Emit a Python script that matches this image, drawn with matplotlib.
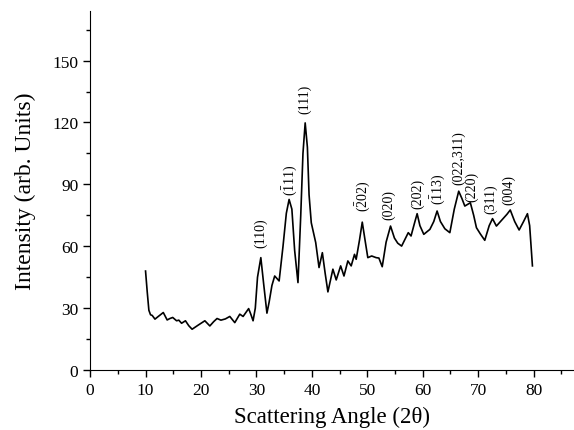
import matplotlib
matplotlib.use("Agg")
import matplotlib.pyplot as plt
from matplotlib.ticker import MultipleLocator

plt.rcParams['font.family'] = ['Liberation Serif', 'DejaVu Serif']
plt.rcParams['mathtext.fontset'] = 'custom'
plt.rcParams['mathtext.rm'] = 'Liberation Serif'
plt.rcParams['mathtext.it'] = 'Liberation Serif'

angle = [10.0, 10.3, 10.6, 10.9, 11.2, 11.7, 12.3, 13.2, 13.9, 14.4, 14.9, 15.6, 16.0, 16.5,
         17.2, 17.8, 18.4, 19.5, 20.7, 21.6, 22.3, 22.9, 23.6, 24.4, 25.2, 26.1, 27.0, 27.6,
         28.6, 29.0, 29.4, 29.8, 30.2, 30.8, 31.3, 31.9, 32.3, 32.8, 33.3, 34.1, 34.8, 35.4,
         35.9, 36.4, 36.9, 37.5, 38.0, 38.4, 38.8, 39.2, 39.5, 39.9, 40.7, 41.3, 41.9, 42.4,
         42.9, 43.8, 44.4, 45.2, 45.8, 46.5, 47.1, 47.7, 48.0, 48.6, 49.1, 49.6, 50.1, 50.8,
         51.6, 52.1, 52.7, 53.4, 54.2, 54.9, 55.5, 56.2, 57.4, 57.9, 58.5, 59.0, 59.5, 60.2,
         61.3, 62.0, 62.6, 63.2, 64.0, 64.9, 65.7, 66.5, 67.1, 67.6, 68.6, 69.2, 69.7, 70.4,
         71.2, 72.0, 72.6, 73.3, 74.5, 75.2, 75.8, 76.6, 77.4, 78.2, 78.9, 79.3, 79.8]
intensity = [48.0, 38.0, 29.0, 26.8, 26.5, 24.7, 26.0, 27.9, 24.3, 25.0, 25.5, 23.9, 24.2, 22.7,
             23.9, 21.5, 19.8, 21.8, 23.9, 21.4, 23.5, 25.0, 24.2, 24.8, 26.0, 23.0, 27.1, 26.0,
             29.8, 27.0, 23.9, 30.0, 45.0, 54.5, 42.0, 27.6, 33.0, 41.0, 45.6, 43.2, 60.0, 76.0,
             82.7, 78.0, 58.0, 42.4, 75.0, 105.0, 119.8, 108.0, 85.0, 71.4, 61.8, 49.7, 56.9, 47.0,
             37.9, 48.9, 43.7, 50.5, 45.6, 52.9, 50.5, 56.1, 53.7, 63.0, 71.7, 63.0, 54.5, 55.3,
             54.5, 54.3, 50.1, 62.0, 69.8, 64.0, 61.5, 60.1, 66.6, 65.0, 71.0, 75.8, 70.0, 65.8,
             68.2, 72.0, 77.1, 72.0, 68.5, 66.6, 78.0, 86.7, 83.0, 79.5, 81.1, 75.0, 69.0, 66.0,
             62.9, 70.0, 73.4, 69.8, 73.4, 75.5, 77.6, 72.0, 67.9, 72.0, 75.8, 70.0, 50.5]

peak_labels = ['(110)', r'($\bar{\mathrm{1}}$11)', '(111)', r'($\bar{\mathrm{2}}$02)', '(020)',
               '(202)', r'($\bar{\mathrm{1}}$13)', '(022,311)', '(220)', '(311)', '(004)']
peak_x = [30.7, 35.9, 38.7, 49.1, 53.9, 59.0, 62.6, 66.4, 68.8, 72.2, 75.5]
peak_y = [59.5, 85.0, 124.8, 77.0, 73.0, 78.7, 80.3, 90.0, 81.9, 76.2, 80.3]

fig = plt.figure(figsize=(5.74, 4.31), dpi=100)
ax = fig.add_axes([0.157, 0.139, 0.843, 0.833])
ax.plot(angle, intensity, color='black', lw=1.2)

for lab, px, py in zip(peak_labels, peak_x, peak_y):
    ax.text(px, py, lab, rotation=90, ha='center', va='bottom', fontsize=10)

ax.set_xlim(0, 87.3)
ax.set_ylim(0, 174)
ax.xaxis.set_major_locator(MultipleLocator(10))
ax.xaxis.set_minor_locator(MultipleLocator(5))
ax.yaxis.set_major_locator(MultipleLocator(30))
ax.yaxis.set_minor_locator(MultipleLocator(15))
ax.spines['top'].set_visible(False)
ax.spines['right'].set_visible(False)
ax.tick_params(which='major', direction='out', length=5, width=1, labelsize=12.5)
ax.tick_params(which='minor', direction='out', length=3, width=1)
ax.set_xlabel('Scattering Angle (2θ)', fontsize=16.5, labelpad=6)
ax.set_ylabel('Intensity (arb. Units)', fontsize=17, labelpad=12)

fig.savefig('out.png', dpi=100)
